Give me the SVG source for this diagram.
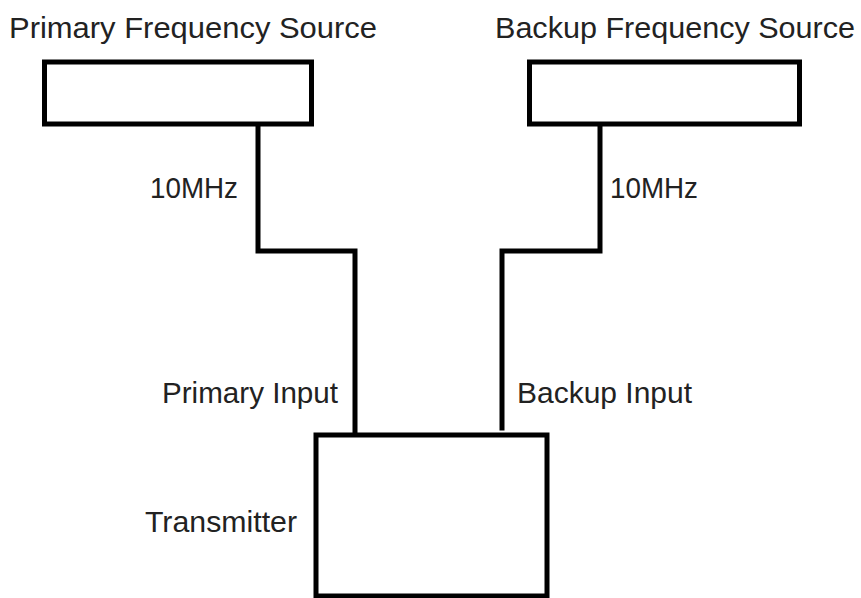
<svg xmlns="http://www.w3.org/2000/svg" width="861" height="598" viewBox="0 0 861 598">
<style>
.box{fill:#fff;stroke:#000;stroke-width:5}
.wire{fill:none;stroke:#000;stroke-width:5;stroke-linejoin:miter;stroke-linecap:square}
text{font-family:"Liberation Sans",Arial,sans-serif;font-size:30px;fill:#222}
</style>
<rect width="861" height="598" fill="#fff"/>
<g id="connectors">
<path class="wire" d="M258,124 V251 H355 V434"/>
<path class="wire" d="M600,124 V251 H502 V428"/>
</g>
<g id="primary-source">
<rect class="box" x="44.5" y="62" width="267" height="62"/>
<text x="9" y="38" textLength="368" lengthAdjust="spacingAndGlyphs">Primary Frequency Source</text>
</g>
<g id="backup-source">
<rect class="box" x="529.5" y="62" width="270" height="62"/>
<text x="495" y="38" textLength="360" lengthAdjust="spacingAndGlyphs">Backup Frequency Source</text>
</g>
<g id="transmitter">
<rect class="box" x="316" y="435" width="231" height="161"/>
<text x="145" y="532" textLength="152" lengthAdjust="spacingAndGlyphs">Transmitter</text>
</g>
<g id="labels">
<text x="150" y="198" textLength="88" lengthAdjust="spacingAndGlyphs">10MHz</text>
<text x="610" y="198" textLength="88" lengthAdjust="spacingAndGlyphs">10MHz</text>
<text x="162" y="403" textLength="176" lengthAdjust="spacingAndGlyphs">Primary Input</text>
<text x="517" y="403" textLength="175" lengthAdjust="spacingAndGlyphs">Backup Input</text>
</g>
</svg>
